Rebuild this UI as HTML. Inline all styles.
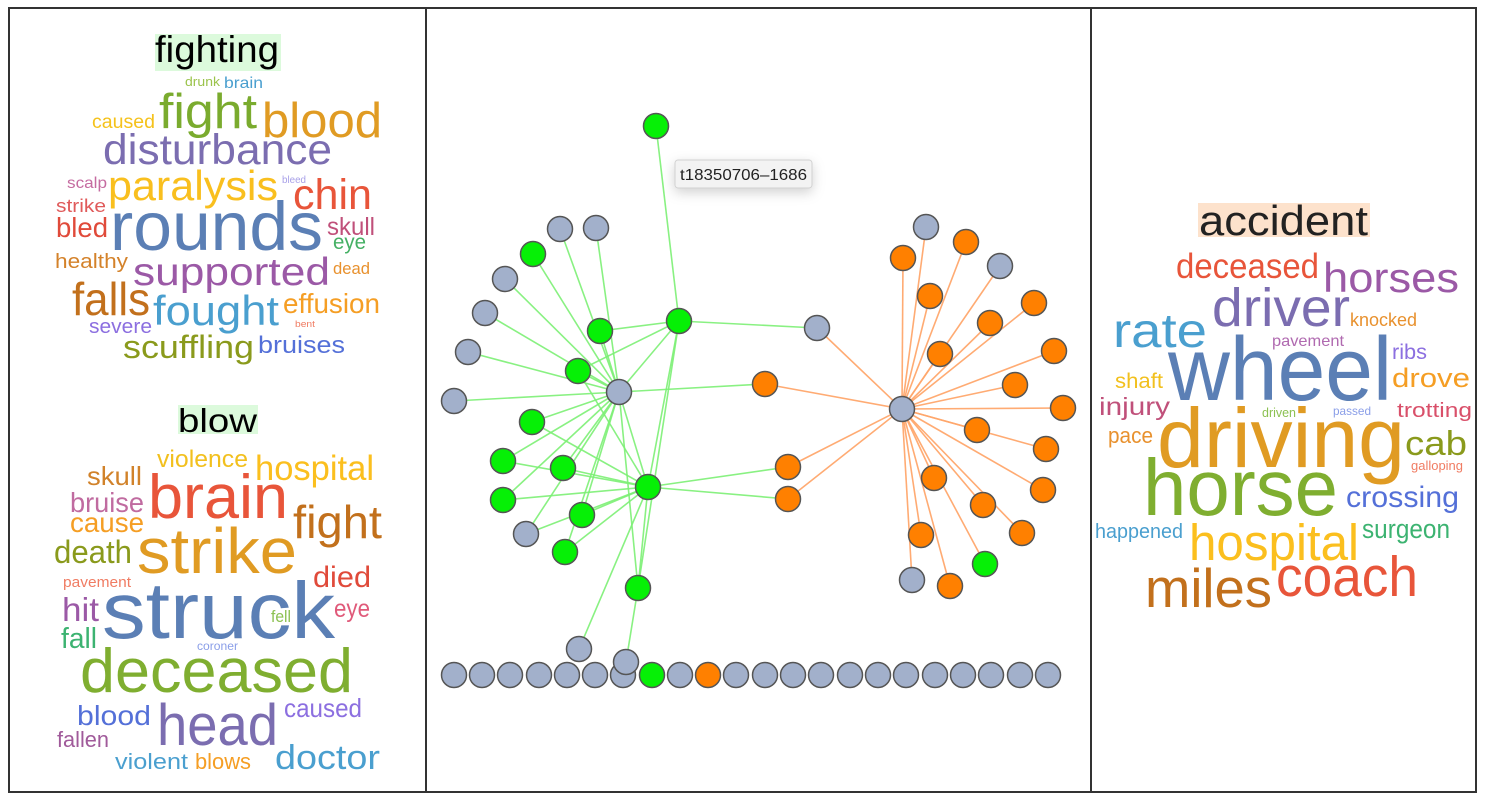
<!DOCTYPE html>
<html>
<head>
<meta charset="utf-8">
<style>
html,body{margin:0;padding:0;background:#fff;}
svg{display:block;}
.w{font-family:"Liberation Sans",sans-serif;}
</style>
</head>
<body>
<svg width="1485" height="806" viewBox="0 0 1485 806" xmlns="http://www.w3.org/2000/svg">
<defs>
<filter id="sh" x="-30%" y="-60%" width="160%" height="260%">
<feDropShadow dx="0" dy="4" stdDeviation="6" flood-color="#000" flood-opacity="0.18"/>
</filter>
</defs>
<rect x="0" y="0" width="1485" height="806" fill="#fff"/>

<!-- word cloud highlight backgrounds -->
<rect x="155" y="34" width="126" height="37" fill="#dcfadc"/>
<rect x="178" y="405" width="80" height="29" fill="#dcfadc"/>
<rect x="1198" y="203" width="172" height="34" fill="#fde2cc"/>

<!-- LEFT TOP: fighting -->
<g class="w" lengthAdjust="spacingAndGlyphs">
<text x="155" y="62" font-size="37" fill="#000" textLength="124" lengthAdjust="spacingAndGlyphs">fighting</text>
<text x="185" y="86" font-size="13" fill="#9bc34b" textLength="35" lengthAdjust="spacingAndGlyphs">drunk</text>
<text x="224" y="88" font-size="16" fill="#4a9fcf" textLength="39" lengthAdjust="spacingAndGlyphs">brain</text>
<text x="92" y="128" font-size="19" fill="#f5c21b" textLength="63" lengthAdjust="spacingAndGlyphs">caused</text>
<text x="159" y="128" font-size="49" fill="#7aab2e" textLength="98" lengthAdjust="spacingAndGlyphs">fight</text>
<text x="262" y="137" font-size="49" fill="#e09b23" textLength="120" lengthAdjust="spacingAndGlyphs">blood</text>
<text x="103" y="164" font-size="43" fill="#7b6db0" textLength="229" lengthAdjust="spacingAndGlyphs">disturbance</text>
<text x="67" y="188" font-size="16" fill="#c56ba0" textLength="40" lengthAdjust="spacingAndGlyphs">scalp</text>
<text x="108" y="200" font-size="42" fill="#f9bf1e" textLength="170" lengthAdjust="spacingAndGlyphs">paralysis</text>
<text x="282" y="183" font-size="10" fill="#a8a0e8" textLength="24" lengthAdjust="spacingAndGlyphs">bleed</text>
<text x="293" y="209" font-size="43" fill="#e8553a" textLength="79" lengthAdjust="spacingAndGlyphs">chin</text>
<text x="56" y="212" font-size="18" fill="#e05a5a" textLength="50" lengthAdjust="spacingAndGlyphs">strike</text>
<text x="110" y="250" font-size="69" fill="#5b7fb5" textLength="213" lengthAdjust="spacingAndGlyphs">rounds</text>
<text x="56" y="237" font-size="28" fill="#e04a3a" textLength="52" lengthAdjust="spacingAndGlyphs">bled</text>
<text x="327" y="235" font-size="25" fill="#c0507a" textLength="48" lengthAdjust="spacingAndGlyphs">skull</text>
<text x="333" y="249" font-size="21" fill="#45b064" textLength="33" lengthAdjust="spacingAndGlyphs">eye</text>
<text x="55" y="268" font-size="20" fill="#d4822a" textLength="73" lengthAdjust="spacingAndGlyphs">healthy</text>
<text x="133" y="285" font-size="39" fill="#9b59a6" textLength="197" lengthAdjust="spacingAndGlyphs">supported</text>
<text x="333" y="274" font-size="17" fill="#e8912e" textLength="37" lengthAdjust="spacingAndGlyphs">dead</text>
<text x="72" y="315" font-size="46" fill="#c2701c" textLength="78" lengthAdjust="spacingAndGlyphs">falls</text>
<text x="153" y="325" font-size="42" fill="#4a9fcf" textLength="126" lengthAdjust="spacingAndGlyphs">fought</text>
<text x="283" y="313" font-size="28" fill="#f59e24" textLength="97" lengthAdjust="spacingAndGlyphs">effusion</text>
<text x="295" y="327" font-size="9" fill="#f07c63" textLength="20" lengthAdjust="spacingAndGlyphs">bent</text>
<text x="89" y="333" font-size="20" fill="#8c6fe0" textLength="63" lengthAdjust="spacingAndGlyphs">severe</text>
<text x="123" y="358" font-size="32" fill="#8a9a1c" textLength="131" lengthAdjust="spacingAndGlyphs">scuffling</text>
<text x="258" y="353" font-size="24" fill="#5470d8" textLength="87" lengthAdjust="spacingAndGlyphs">bruises</text>
</g>

<!-- LEFT BOTTOM: blow -->
<g class="w">
<text x="178" y="432" font-size="33" fill="#000" textLength="79" lengthAdjust="spacingAndGlyphs">blow</text>
<text x="157" y="467" font-size="24" fill="#f2c01e" textLength="91" lengthAdjust="spacingAndGlyphs">violence</text>
<text x="255" y="480" font-size="35" fill="#fbbf1e" textLength="119" lengthAdjust="spacingAndGlyphs">hospital</text>
<text x="87" y="485" font-size="26" fill="#d1822a" textLength="55" lengthAdjust="spacingAndGlyphs">skull</text>
<text x="148" y="518" font-size="62" fill="#e8553a" textLength="140" lengthAdjust="spacingAndGlyphs">brain</text>
<text x="70" y="512" font-size="28" fill="#c06ba0" textLength="74" lengthAdjust="spacingAndGlyphs">bruise</text>
<text x="70" y="532" font-size="28" fill="#f59e24" textLength="74" lengthAdjust="spacingAndGlyphs">cause</text>
<text x="293" y="538" font-size="46" fill="#c2701c" textLength="89" lengthAdjust="spacingAndGlyphs">fight</text>
<text x="54" y="563" font-size="32" fill="#8a9a1c" textLength="78" lengthAdjust="spacingAndGlyphs">death</text>
<text x="137" y="573" font-size="64" fill="#e09b23" textLength="160" lengthAdjust="spacingAndGlyphs">strike</text>
<text x="313" y="587" font-size="30" fill="#e04a3a" textLength="58" lengthAdjust="spacingAndGlyphs">died</text>
<text x="63" y="587" font-size="15" fill="#f07c63" textLength="68" lengthAdjust="spacingAndGlyphs">pavement</text>
<text x="62" y="621" font-size="33" fill="#9b59a6" textLength="37" lengthAdjust="spacingAndGlyphs">hit</text>
<text x="102" y="638" font-size="80" fill="#5b7fb5" textLength="233" lengthAdjust="spacingAndGlyphs">struck</text>
<text x="334" y="617" font-size="25" fill="#e05a7a" textLength="36" lengthAdjust="spacingAndGlyphs">eye</text>
<text x="271" y="622" font-size="17" fill="#8cc152" textLength="20" lengthAdjust="spacingAndGlyphs">fell</text>
<text x="61" y="648" font-size="29" fill="#3cb371" textLength="36" lengthAdjust="spacingAndGlyphs">fall</text>
<text x="197" y="650" font-size="12" fill="#8a9ee8" textLength="41" lengthAdjust="spacingAndGlyphs">coroner</text>
<text x="80" y="692" font-size="62" fill="#7fae30" textLength="273" lengthAdjust="spacingAndGlyphs">deceased</text>
<text x="77" y="725" font-size="28" fill="#5470d8" textLength="74" lengthAdjust="spacingAndGlyphs">blood</text>
<text x="157" y="745" font-size="58" fill="#7b6db0" textLength="121" lengthAdjust="spacingAndGlyphs">head</text>
<text x="284" y="717" font-size="26" fill="#8c6fe0" textLength="78" lengthAdjust="spacingAndGlyphs">caused</text>
<text x="57" y="747" font-size="22" fill="#a05a9a" textLength="52" lengthAdjust="spacingAndGlyphs">fallen</text>
<text x="115" y="769" font-size="22" fill="#4a9fcf" textLength="73" lengthAdjust="spacingAndGlyphs">violent</text>
<text x="195" y="769" font-size="22" fill="#f59e24" textLength="56" lengthAdjust="spacingAndGlyphs">blows</text>
<text x="275" y="769" font-size="34" fill="#4a9fcf" textLength="105" lengthAdjust="spacingAndGlyphs">doctor</text>
</g>

<!-- RIGHT: accident -->
<g class="w">
<text x="1199" y="235" font-size="42" fill="#222" textLength="169" lengthAdjust="spacingAndGlyphs">accident</text>
<text x="1176" y="278" font-size="35" fill="#e8553a" textLength="143" lengthAdjust="spacingAndGlyphs">deceased</text>
<text x="1323" y="292" font-size="42" fill="#9b59a6" textLength="136" lengthAdjust="spacingAndGlyphs">horses</text>
<text x="1212" y="326" font-size="54" fill="#7b6db0" textLength="138" lengthAdjust="spacingAndGlyphs">driver</text>
<text x="1113" y="347" font-size="48" fill="#4a9fcf" textLength="94" lengthAdjust="spacingAndGlyphs">rate</text>
<text x="1350" y="326" font-size="18" fill="#e8912e" textLength="67" lengthAdjust="spacingAndGlyphs">knocked</text>
<text x="1272" y="346" font-size="16" fill="#b06ab0" textLength="72" lengthAdjust="spacingAndGlyphs">pavement</text>
<text x="1392" y="359" font-size="21" fill="#8c6fe0" textLength="35" lengthAdjust="spacingAndGlyphs">ribs</text>
<text x="1168" y="400" font-size="90" fill="#5b7fb5" textLength="224" lengthAdjust="spacingAndGlyphs">wheel</text>
<text x="1115" y="388" font-size="21" fill="#f2c01e" textLength="48" lengthAdjust="spacingAndGlyphs">shaft</text>
<text x="1392" y="387" font-size="27" fill="#f59e24" textLength="78" lengthAdjust="spacingAndGlyphs">drove</text>
<text x="1099" y="415" font-size="25" fill="#c0507a" textLength="71" lengthAdjust="spacingAndGlyphs">injury</text>
<text x="1262" y="417" font-size="13" fill="#8cc152" textLength="34" lengthAdjust="spacingAndGlyphs">driven</text>
<text x="1333" y="415" font-size="12" fill="#8a9ee8" textLength="38" lengthAdjust="spacingAndGlyphs">passed</text>
<text x="1397" y="417" font-size="20" fill="#d9506a" textLength="75" lengthAdjust="spacingAndGlyphs">trotting</text>
<text x="1108" y="443" font-size="22" fill="#e8912e" textLength="45" lengthAdjust="spacingAndGlyphs">pace</text>
<text x="1157" y="467" font-size="84" fill="#e09b23" textLength="248" lengthAdjust="spacingAndGlyphs">driving</text>
<text x="1405" y="455" font-size="34" fill="#8a9a1c" textLength="62" lengthAdjust="spacingAndGlyphs">cab</text>
<text x="1411" y="470" font-size="13" fill="#f07c63" textLength="52" lengthAdjust="spacingAndGlyphs">galloping</text>
<text x="1143" y="515" font-size="80" fill="#7fae30" textLength="195" lengthAdjust="spacingAndGlyphs">horse</text>
<text x="1346" y="507" font-size="30" fill="#5470d8" textLength="113" lengthAdjust="spacingAndGlyphs">crossing</text>
<text x="1095" y="538" font-size="20" fill="#4a9fcf" textLength="88" lengthAdjust="spacingAndGlyphs">happened</text>
<text x="1362" y="538" font-size="27" fill="#3cb371" textLength="88" lengthAdjust="spacingAndGlyphs">surgeon</text>
<text x="1189" y="560" font-size="51" fill="#fbbf1e" textLength="170" lengthAdjust="spacingAndGlyphs">hospital</text>
<text x="1145" y="607" font-size="55" fill="#c2701c" textLength="127" lengthAdjust="spacingAndGlyphs">miles</text>
<text x="1276" y="596" font-size="57" fill="#e8553a" textLength="142" lengthAdjust="spacingAndGlyphs">coach</text>
</g>

<!-- GRAPH EDGES: green -->
<g stroke="#7cef74" stroke-width="1.6" stroke-opacity="0.9" fill="none">
<line x1="656" y1="126" x2="679" y2="321"/>
<line x1="679" y1="321" x2="619" y2="392"/>
<line x1="679" y1="321" x2="600" y2="331"/>
<line x1="679" y1="321" x2="578" y2="371"/>
<line x1="679" y1="321" x2="648" y2="487"/>
<line x1="679" y1="321" x2="817" y2="328"/>
<line x1="560" y1="229" x2="619" y2="392"/>
<line x1="596" y1="228" x2="619" y2="392"/>
<line x1="533" y1="254" x2="619" y2="392"/>
<line x1="505" y1="279" x2="619" y2="392"/>
<line x1="485" y1="313" x2="619" y2="392"/>
<line x1="468" y1="352" x2="619" y2="392"/>
<line x1="454" y1="401" x2="619" y2="392"/>
<line x1="600" y1="331" x2="619" y2="392"/>
<line x1="578" y1="371" x2="619" y2="392"/>
<line x1="578" y1="371" x2="648" y2="487"/>
<line x1="532" y1="422" x2="619" y2="392"/>
<line x1="532" y1="422" x2="648" y2="487"/>
<line x1="503" y1="461" x2="619" y2="392"/>
<line x1="503" y1="461" x2="648" y2="487"/>
<line x1="563" y1="468" x2="619" y2="392"/>
<line x1="563" y1="468" x2="648" y2="487"/>
<line x1="503" y1="500" x2="619" y2="392"/>
<line x1="503" y1="500" x2="648" y2="487"/>
<line x1="582" y1="515" x2="619" y2="392"/>
<line x1="582" y1="515" x2="648" y2="487"/>
<line x1="526" y1="534" x2="619" y2="392"/>
<line x1="526" y1="534" x2="648" y2="487"/>
<line x1="565" y1="552" x2="619" y2="392"/>
<line x1="565" y1="552" x2="648" y2="487"/>
<line x1="638" y1="588" x2="648" y2="487"/>
<line x1="638" y1="588" x2="619" y2="392"/>
<line x1="638" y1="588" x2="679" y2="321"/>
<line x1="579" y1="649" x2="648" y2="487"/>
<line x1="626" y1="662" x2="638" y2="588"/>
<line x1="619" y1="392" x2="648" y2="487"/>
<line x1="619" y1="392" x2="765" y2="384"/>
<line x1="648" y1="487" x2="788" y2="467"/>
<line x1="648" y1="487" x2="788" y2="499"/>
</g>

<!-- GRAPH EDGES: orange -->
<g stroke="#ffa76b" stroke-width="1.6" stroke-opacity="0.95" fill="none">
<line x1="902" y1="409" x2="817" y2="328"/>
<line x1="902" y1="409" x2="765" y2="384"/>
<line x1="902" y1="409" x2="788" y2="467"/>
<line x1="902" y1="409" x2="788" y2="499"/>
<line x1="902" y1="409" x2="926" y2="227"/>
<line x1="902" y1="409" x2="966" y2="242"/>
<line x1="902" y1="409" x2="903" y2="258"/>
<line x1="902" y1="409" x2="1000" y2="266"/>
<line x1="902" y1="409" x2="930" y2="296"/>
<line x1="902" y1="409" x2="1034" y2="303"/>
<line x1="902" y1="409" x2="990" y2="323"/>
<line x1="902" y1="409" x2="940" y2="354"/>
<line x1="902" y1="409" x2="1054" y2="351"/>
<line x1="902" y1="409" x2="1015" y2="385"/>
<line x1="902" y1="409" x2="1063" y2="408"/>
<line x1="902" y1="409" x2="977" y2="430"/>
<line x1="902" y1="409" x2="1046" y2="449"/>
<line x1="902" y1="409" x2="934" y2="478"/>
<line x1="902" y1="409" x2="1043" y2="490"/>
<line x1="902" y1="409" x2="983" y2="505"/>
<line x1="902" y1="409" x2="1022" y2="533"/>
<line x1="902" y1="409" x2="921" y2="535"/>
<line x1="902" y1="409" x2="985" y2="564"/>
<line x1="902" y1="409" x2="912" y2="580"/>
<line x1="902" y1="409" x2="950" y2="586"/>
</g>

<!-- NODES -->
<g stroke="#555" stroke-width="1.5">
<!-- left cluster -->
<circle cx="656" cy="126" r="12.5" fill="#06f006"/>
<circle cx="560" cy="229" r="12.5" fill="#a2b0cb"/>
<circle cx="596" cy="228" r="12.5" fill="#a2b0cb"/>
<circle cx="533" cy="254" r="12.5" fill="#06f006"/>
<circle cx="505" cy="279" r="12.5" fill="#a2b0cb"/>
<circle cx="485" cy="313" r="12.5" fill="#a2b0cb"/>
<circle cx="468" cy="352" r="12.5" fill="#a2b0cb"/>
<circle cx="454" cy="401" r="12.5" fill="#a2b0cb"/>
<circle cx="600" cy="331" r="12.5" fill="#06f006"/>
<circle cx="679" cy="321" r="12.5" fill="#06f006"/>
<circle cx="578" cy="371" r="12.5" fill="#06f006"/>
<circle cx="619" cy="392" r="12.5" fill="#a2b0cb"/>
<circle cx="532" cy="422" r="12.5" fill="#06f006"/>
<circle cx="503" cy="461" r="12.5" fill="#06f006"/>
<circle cx="563" cy="468" r="12.5" fill="#06f006"/>
<circle cx="503" cy="500" r="12.5" fill="#06f006"/>
<circle cx="648" cy="487" r="12.5" fill="#06f006"/>
<circle cx="582" cy="515" r="12.5" fill="#06f006"/>
<circle cx="526" cy="534" r="12.5" fill="#a2b0cb"/>
<circle cx="565" cy="552" r="12.5" fill="#06f006"/>
<circle cx="638" cy="588" r="12.5" fill="#06f006"/>
<!-- bridge nodes -->
<circle cx="817" cy="328" r="12.5" fill="#a2b0cb"/>
<circle cx="765" cy="384" r="12.5" fill="#ff8000"/>
<circle cx="788" cy="467" r="12.5" fill="#ff8000"/>
<circle cx="788" cy="499" r="12.5" fill="#ff8000"/>
<!-- right cluster -->
<circle cx="926" cy="227" r="12.5" fill="#a2b0cb"/>
<circle cx="966" cy="242" r="12.5" fill="#ff8000"/>
<circle cx="903" cy="258" r="12.5" fill="#ff8000"/>
<circle cx="1000" cy="266" r="12.5" fill="#a2b0cb"/>
<circle cx="930" cy="296" r="12.5" fill="#ff8000"/>
<circle cx="1034" cy="303" r="12.5" fill="#ff8000"/>
<circle cx="990" cy="323" r="12.5" fill="#ff8000"/>
<circle cx="940" cy="354" r="12.5" fill="#ff8000"/>
<circle cx="1054" cy="351" r="12.5" fill="#ff8000"/>
<circle cx="1015" cy="385" r="12.5" fill="#ff8000"/>
<circle cx="902" cy="409" r="12.5" fill="#a2b0cb"/>
<circle cx="1063" cy="408" r="12.5" fill="#ff8000"/>
<circle cx="977" cy="430" r="12.5" fill="#ff8000"/>
<circle cx="1046" cy="449" r="12.5" fill="#ff8000"/>
<circle cx="934" cy="478" r="12.5" fill="#ff8000"/>
<circle cx="1043" cy="490" r="12.5" fill="#ff8000"/>
<circle cx="983" cy="505" r="12.5" fill="#ff8000"/>
<circle cx="1022" cy="533" r="12.5" fill="#ff8000"/>
<circle cx="921" cy="535" r="12.5" fill="#ff8000"/>
<circle cx="985" cy="564" r="12.5" fill="#06f006"/>
<circle cx="912" cy="580" r="12.5" fill="#a2b0cb"/>
<circle cx="950" cy="586" r="12.5" fill="#ff8000"/>
<!-- bottom row -->
<circle cx="454" cy="675" r="12.5" fill="#a2b0cb"/>
<circle cx="482" cy="675" r="12.5" fill="#a2b0cb"/>
<circle cx="510" cy="675" r="12.5" fill="#a2b0cb"/>
<circle cx="539" cy="675" r="12.5" fill="#a2b0cb"/>
<circle cx="567" cy="675" r="12.5" fill="#a2b0cb"/>
<circle cx="595" cy="675" r="12.5" fill="#a2b0cb"/>
<circle cx="623" cy="675" r="12.5" fill="#a2b0cb"/>
<circle cx="652" cy="675" r="12.5" fill="#06f006"/>
<circle cx="680" cy="675" r="12.5" fill="#a2b0cb"/>
<circle cx="708" cy="675" r="12.5" fill="#ff8000"/>
<circle cx="736" cy="675" r="12.5" fill="#a2b0cb"/>
<circle cx="765" cy="675" r="12.5" fill="#a2b0cb"/>
<circle cx="793" cy="675" r="12.5" fill="#a2b0cb"/>
<circle cx="821" cy="675" r="12.5" fill="#a2b0cb"/>
<circle cx="850" cy="675" r="12.5" fill="#a2b0cb"/>
<circle cx="878" cy="675" r="12.5" fill="#a2b0cb"/>
<circle cx="906" cy="675" r="12.5" fill="#a2b0cb"/>
<circle cx="935" cy="675" r="12.5" fill="#a2b0cb"/>
<circle cx="963" cy="675" r="12.5" fill="#a2b0cb"/>
<circle cx="991" cy="675" r="12.5" fill="#a2b0cb"/>
<circle cx="1020" cy="675" r="12.5" fill="#a2b0cb"/>
<circle cx="1048" cy="675" r="12.5" fill="#a2b0cb"/>
<!-- raised nodes -->
<circle cx="579" cy="649" r="12.5" fill="#a2b0cb"/>
<circle cx="626" cy="662" r="12.5" fill="#a2b0cb"/>
</g>

<!-- tooltip -->
<rect x="675" y="160" width="137" height="28" rx="3" fill="#f3f3f3" stroke="#d2d2d2" stroke-width="1" filter="url(#sh)"/>
<text x="680" y="180" font-family="Liberation Sans, sans-serif" font-size="16" fill="#222" textLength="127" lengthAdjust="spacingAndGlyphs">t18350706–1686</text>

<!-- panel borders -->
<rect x="9" y="8" width="1467" height="784" fill="none" stroke="#333" stroke-width="2"/>
<line x1="426" y1="8" x2="426" y2="792" stroke="#333" stroke-width="2"/>
<line x1="1091" y1="8" x2="1091" y2="792" stroke="#333" stroke-width="2"/>
</svg>
</body>
</html>
